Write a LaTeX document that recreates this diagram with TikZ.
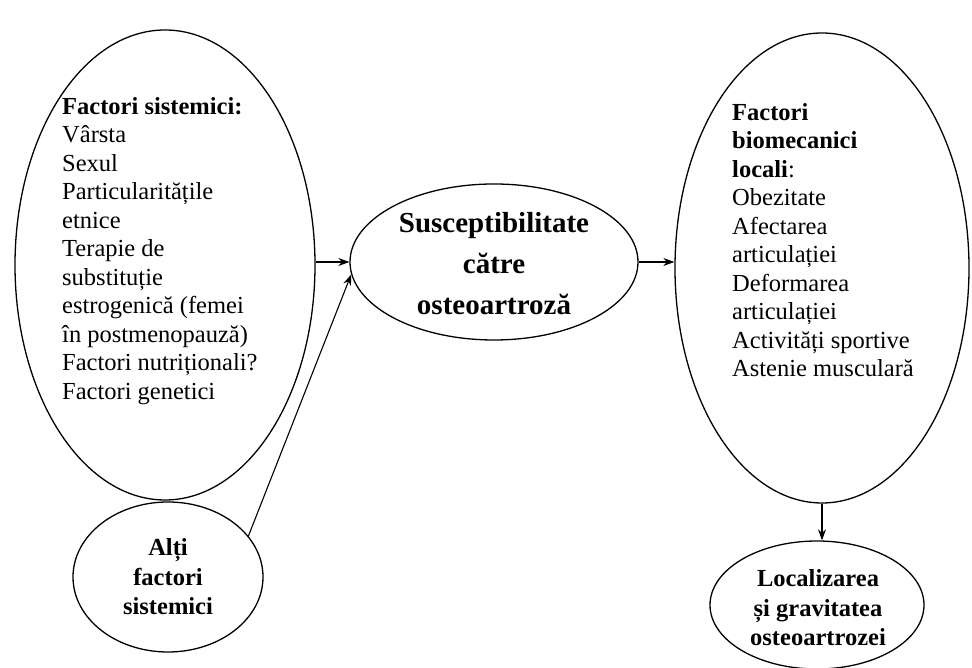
\documentclass[tikz,border=0pt]{standalone}
\usepackage{fontspec}
\setmainfont{Liberation Serif}
\usetikzlibrary{arrows.meta,shapes.geometric}
\begin{document}
\begin{tikzpicture}[x=1pt,y=1pt,
  ell/.style={draw, ellipse, line width=1.3pt, inner sep=0pt},
  arr/.style={-{Stealth[length=11pt,width=8pt]}, line width=1.1pt},
  body/.style={font=\fontsize{24.5}{28.5}\selectfont, align=left, inner sep=0pt, anchor=north west},
  boldc/.style={font=\fontsize{24.5}{29.5}\selectfont\bfseries, align=center, inner sep=0pt},
  bigc/.style={font=\fontsize{29}{41}\selectfont\bfseries, align=center, inner sep=0pt}]
\fill[white] (0,0) rectangle (972,668);
\useasboundingbox (0,0) rectangle (972,668);
% ellipses
\node[ell, minimum width=300pt, minimum height=470pt] (L) at (165,403) {};
\node[ell, minimum width=190pt, minimum height=150pt] (S) at (168,91) {};
\node[ell, minimum width=288pt, minimum height=156pt] (C) at (494,406) {};
\node[ell, minimum width=294pt, minimum height=470pt] (R) at (822,400) {};
\node[ell, minimum width=214pt, minimum height=128pt] (B) at (817,63) {};
% texts
\node[body] (Ltext) at (62,571) {\textbf{Factori sistemici:}\\ Vârsta\\ Sexul\\ Particularitățile\\ etnice\\ Terapie de\\ substituție\\ estrogenică (femei\\ în postmenopauză)\\ Factori nutriționali?\\ Factori genetici};
\node[body] (Rtext) at (732,565) {\textbf{Factori}\\ \textbf{biomecanici}\\ \textbf{locali}:\\ Obezitate\\ Afectarea\\ articulației\\ Deformarea\\ articulației\\ Activități sportive\\ Astenie musculară};
\node[bigc] (Ctext) at (494,404) {Susceptibilitate\\ către\\ osteoartroză};
\node[boldc] (Stext) at (168,91) {Alți\\ factori\\ sistemici};
\node[boldc] (Btext) at (818,60) {Localizarea\\ și gravitatea\\ osteoartrozei};
% connectors
\draw[arr] (L.east |- C.west) -- (C.west);
\draw[arr] (S.27) -- (C.185);
\draw[arr] (C.east) -- (R.west |- C.east);
\draw[arr] (R.south) -- (R.south |- B.north);
\end{tikzpicture}
\end{document}
